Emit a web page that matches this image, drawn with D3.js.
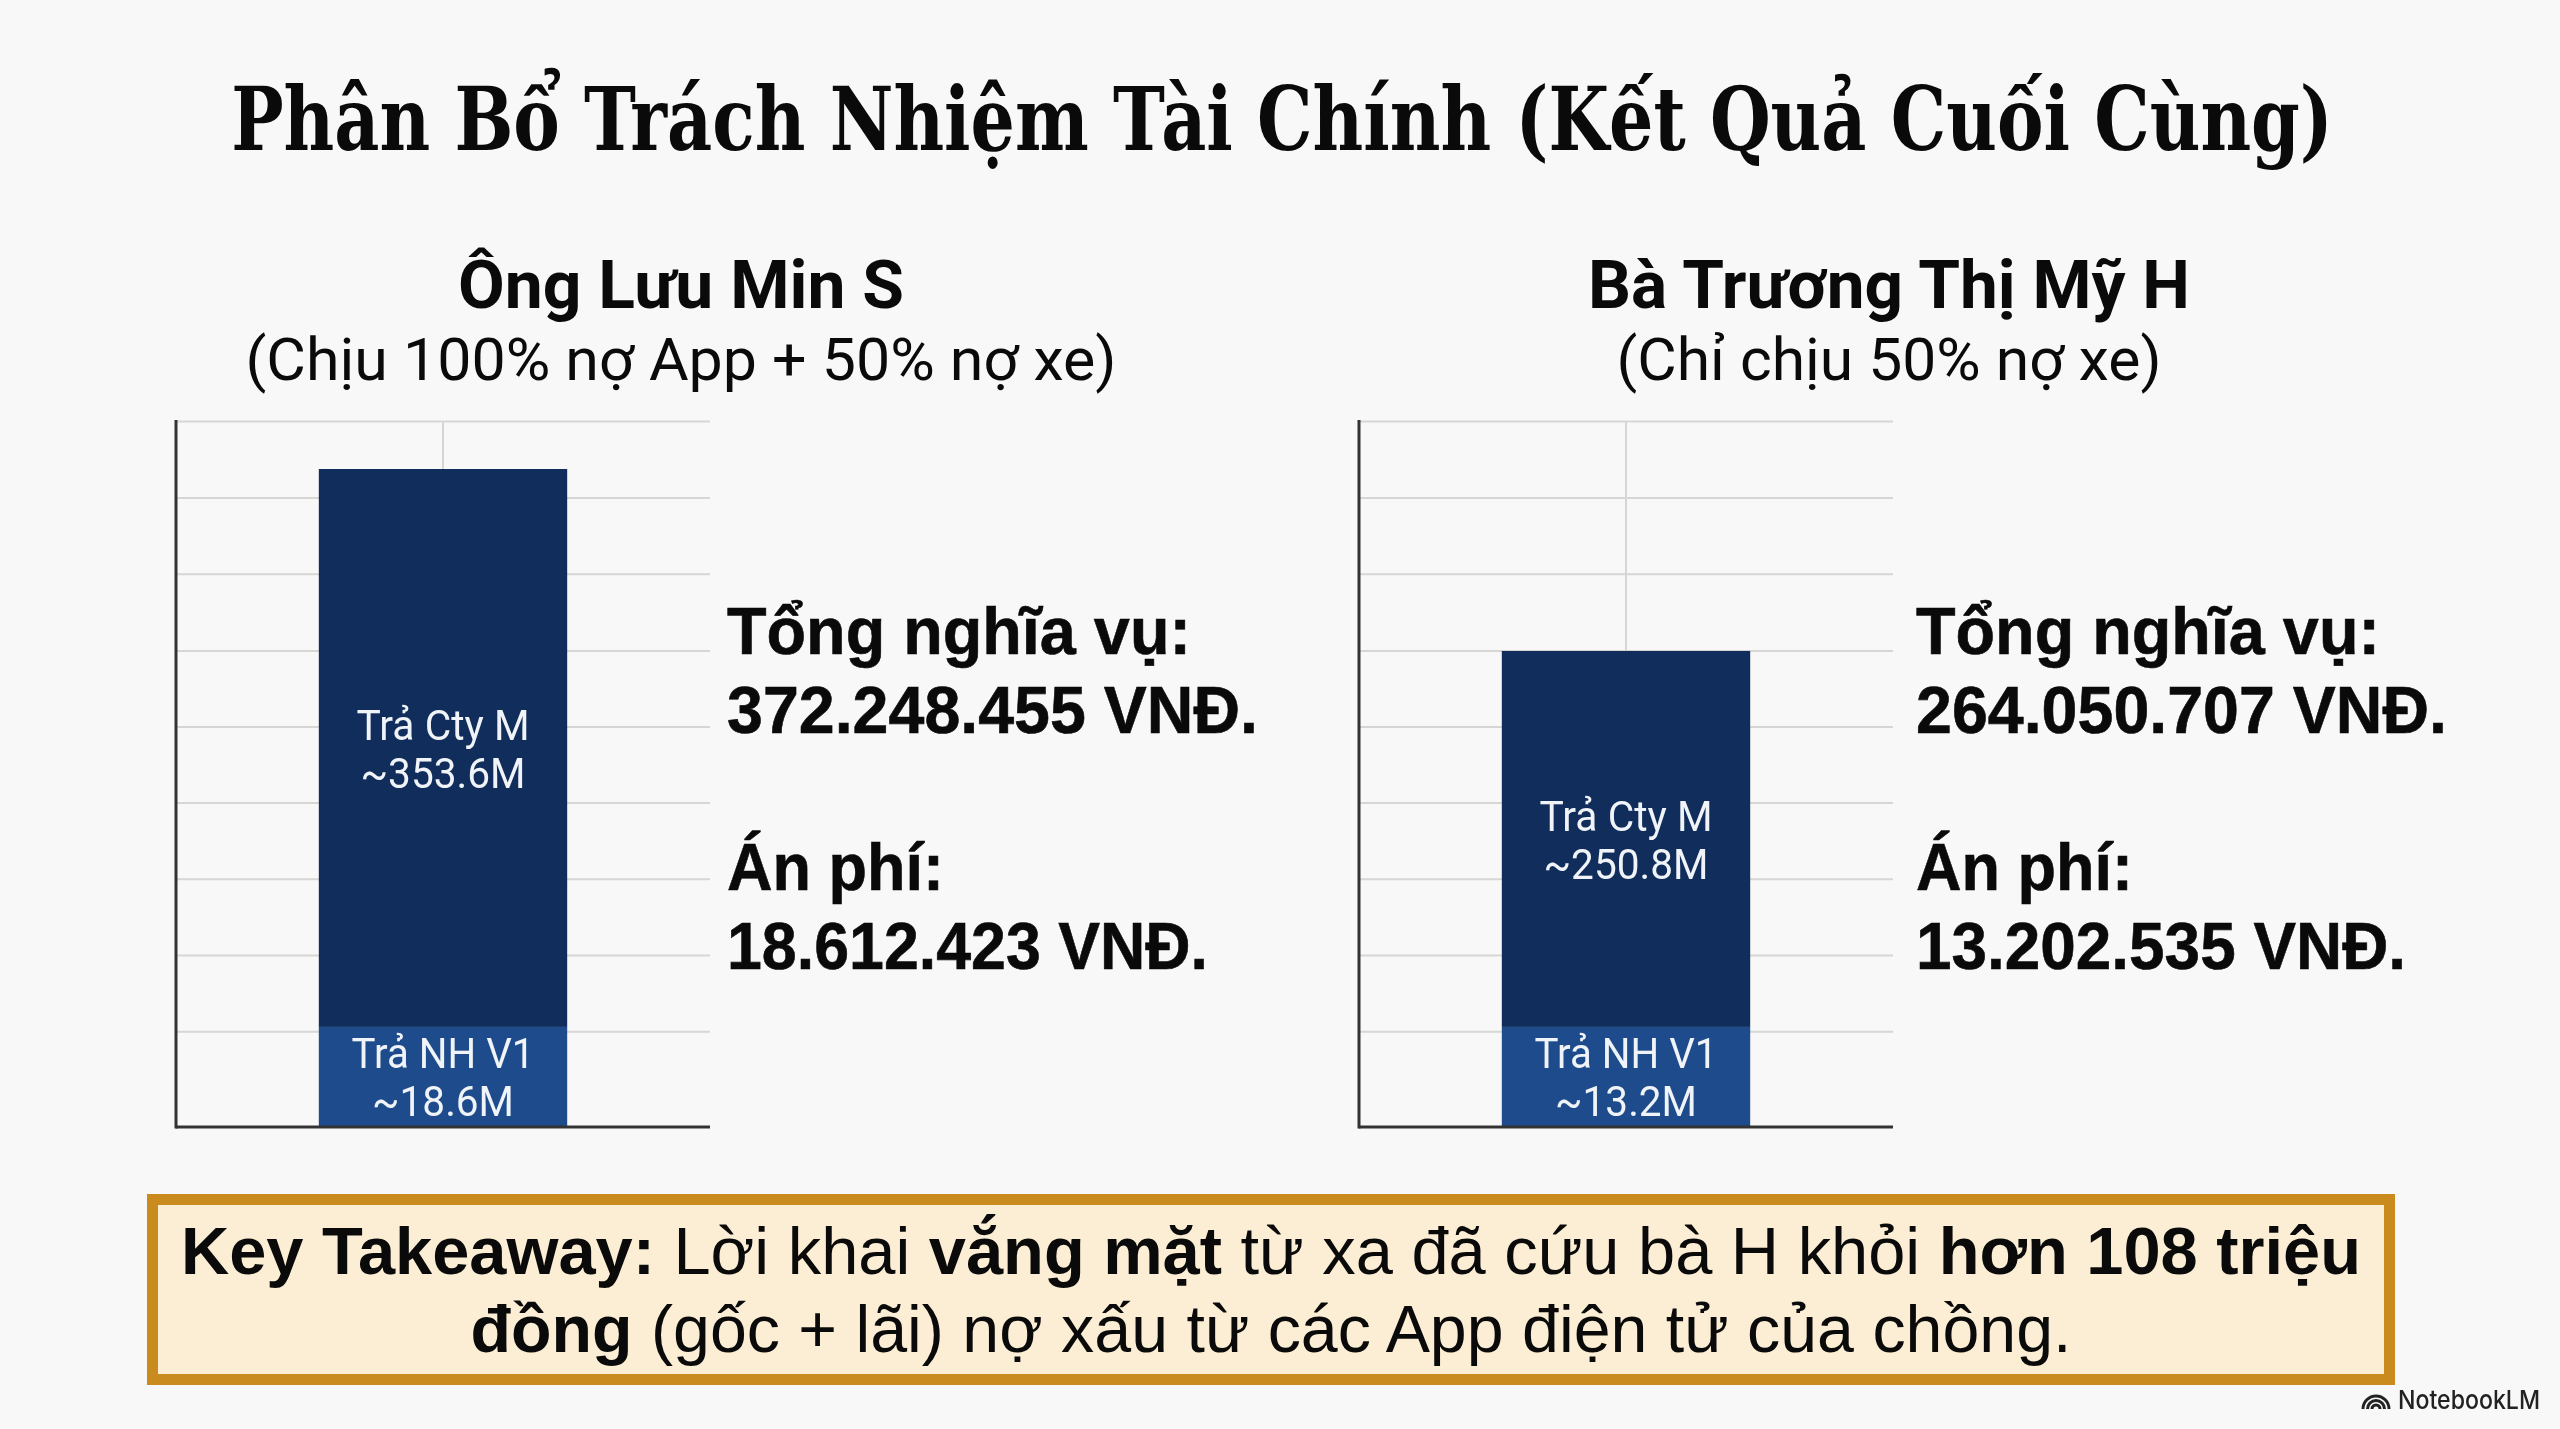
<!DOCTYPE html>
<html lang="vi">
<head>
<meta charset="utf-8">
<script src="https://cdn.jsdelivr.net/npm/d3@7/dist/d3.min.js"></script>
<style>
html,body{margin:0;padding:0;background:#f8f8f8;overflow:hidden}
svg{display:block;filter:blur(0.7px)}
</style>
</head>
<body>
<svg id="chart" width="2560" height="1429"></svg>
<script>
// ---- data ----
const chartTitle = "Phân Bổ Trách Nhiệm Tài Chính (Kết Quả Cuối Cùng)";
const persons = ["Ông Lưu Min S", "Bà Trương Thị Mỹ H"];
const subtitles = ["(Chịu 100% nợ App + 50% nợ xe)", "(Chỉ chịu 50% nợ xe)"];
const bankHeights = [56.7, 56.7];       // drawn height of the lower segment
const companyHeights = [316.1, 213];    // drawn height of the upper segment
const bankLabels = ["~18.6M", "~13.2M"];
const companyLabels = ["~353.6M", "~250.8M"];
const bankName = "Trả NH V1";
const companyName = "Trả Cty M";
const gridValues = [400, 356.7, 313.4, 270, 226.9, 183.8, 140.6, 97.5, 54.2];
const obligationLabel = "Tổng nghĩa vụ:";
const feeLabel = "Án phí:";
const obligations = ["372.248.455 VNĐ.", "264.050.707 VNĐ."];
const fees = ["18.612.423 VNĐ.", "13.202.535 VNĐ."];
const takeawayLine1 = [["Key Takeaway:", true], [" Lời khai ", false], ["vắng mặt", true], [" từ xa đã cứu bà H khỏi ", false], ["hơn 108 triệu", true]];
const takeawayLine2 = [["đồng", true], [" (gốc + lãi) nợ xấu từ các App điện tử của chồng.", false]];

// ---- layout ----
const panelLeft = [176, 1359];
const panelWidth = 534;
const statX = [727, 1916];
const feeW = [481, 490];
const headCenter = [681, 1889];
const headW = [446, 602];
const subW = [871, 545];
const plotTop = 421, plotBase = 1127;
const navy = "#102d5b", blue = "#1d4b8b", ink = "#0a0a0a", grid = "#d6d6d4";

const svg = d3.select("#chart");
const fitted = (sel, w) => sel.attr("textLength", w).attr("lengthAdjust", "spacingAndGlyphs");

const titleText = svg.append("text").attr("text-anchor", "middle")
  .attr("font-family", "'DejaVu Serif Condensed','DejaVu Serif',serif").attr("font-weight", 700)
  .attr("font-size", 88).attr("fill", ink).text(chartTitle);
titleText.attr("transform", `translate(1282,150) scale(${2102 / titleText.node().getComputedTextLength()},1)`);

const y = d3.scaleLinear().domain([0, 400]).range([plotBase, plotTop]);

persons.forEach((person, i) => {
  const x = d3.scaleBand().domain([person]).range([panelLeft[i], panelLeft[i] + panelWidth])
    .paddingInner(0).paddingOuter(0.575);
  const cx = x(person) + x.bandwidth() / 2;

  // headings
  svg.append("text").attr("x", headCenter[i]).attr("y", 308).attr("text-anchor", "middle")
    .attr("font-family", "Roboto").attr("font-weight", 700).attr("font-size", 66).attr("fill", ink)
    .text(person).call(fitted, headW[i]);
  svg.append("text").attr("x", headCenter[i]).attr("y", 380).attr("text-anchor", "middle")
    .attr("font-family", "Roboto").attr("font-weight", 400).attr("font-size", 60).attr("fill", ink)
    .text(subtitles[i]).call(fitted, subW[i]);

  const plot = svg.append("g");

  // grid from the axes
  const gy = plot.append("g").attr("transform", `translate(${panelLeft[i]},0)`)
    .call(d3.axisLeft(y).tickValues(gridValues).tickSize(-panelWidth).tickFormat(""));
  gy.select(".domain").remove();
  gy.selectAll("line").attr("stroke", grid).attr("stroke-width", 2);

  const gx = plot.append("g").attr("transform", `translate(0,${plotBase})`)
    .call(d3.axisBottom(x).tickSize(-(plotBase - plotTop)).tickFormat(""));
  gx.select(".domain").remove();
  gx.selectAll("line").attr("stroke", grid).attr("stroke-width", 2);

  // stacked bar
  const bank = bankHeights[i], company = companyHeights[i];
  plot.append("rect").attr("x", x(person)).attr("width", x.bandwidth())
    .attr("y", y(bank + company)).attr("height", y(bank) - y(bank + company)).attr("fill", navy);
  plot.append("rect").attr("x", x(person)).attr("width", x.bandwidth())
    .attr("y", y(bank)).attr("height", y(0) - y(bank)).attr("fill", blue);

  // axis lines
  plot.append("line").attr("x1", panelLeft[i]).attr("x2", panelLeft[i]).attr("y1", plotTop - 1).attr("y2", plotBase + 1.5)
    .attr("stroke", "#333").attr("stroke-width", 3);
  plot.append("line").attr("x1", panelLeft[i]).attr("x2", panelLeft[i] + panelWidth).attr("y1", y(0)).attr("y2", y(0))
    .attr("stroke", "#333").attr("stroke-width", 3);

  // bar labels
  const mid = (y(bank + company) + y(bank)) / 2;
  const barText = (t, yy, w) => plot.append("text").attr("x", cx).attr("y", yy).attr("text-anchor", "middle")
    .attr("font-family", "Roboto").attr("font-size", 43).attr("fill", "#f0f4f8").text(t).call(fitted, w);
  barText(companyName, mid - 8, 173);
  barText(companyLabels[i], mid + 40, 165);
  barText(bankName, 1068, 183);
  barText(bankLabels[i], 1116, 142);

  // side statistics
  const stat = (t, yy, w) => svg.append("text").attr("x", statX[i]).attr("y", yy)
    .attr("font-family", "'Liberation Sans',Arial,sans-serif").attr("font-weight", 700).attr("font-size", 67).attr("fill", ink)
    .attr("stroke", ink).attr("stroke-width", 0.6)
    .text(t).call(fitted, w);
  stat(obligationLabel, 654, 464);
  stat(obligations[i], 733, 531);
  stat(feeLabel, 890, 217);
  stat(fees[i], 969, feeW[i]);
});

// takeaway box
svg.append("rect").attr("x", 152.5).attr("y", 1199.5).attr("width", 2237).attr("height", 180)
  .attr("fill", "#fbeed4").attr("stroke", "#c98a1e").attr("stroke-width", 11);
const takeaway = (parts, yy, w) => {
  const t = svg.append("text").attr("x", 1271).attr("y", yy).attr("text-anchor", "middle")
    .attr("font-family", "'Liberation Sans',Arial,sans-serif").attr("font-size", 67).attr("fill", ink)
    .style("white-space", "pre");
  parts.forEach(([s, b]) => t.append("tspan").attr("font-weight", b ? 700 : 400).text(s));
  t.call(fitted, w);
};
takeaway(takeawayLine1, 1274, 2180);
takeaway(takeawayLine2, 1352, 1601);

// brand mark
const brand = svg.append("g").attr("fill", "none").attr("stroke", "#222").attr("stroke-width", 3);
[13, 8.5, 4].forEach(r => brand.append("path")
  .attr("d", d3.arc()({innerRadius: r, outerRadius: r, startAngle: -Math.PI / 2, endAngle: Math.PI / 2}))
  .attr("transform", "translate(2376,1409)"));
svg.append("text").attr("x", 2398).attr("y", 1409).attr("font-family", "Inter,Roboto").attr("font-weight", 500)
  .attr("font-size", 26).attr("fill", "#222").text("NotebookLM").call(fitted, 142);
</script>
</body>
</html>
